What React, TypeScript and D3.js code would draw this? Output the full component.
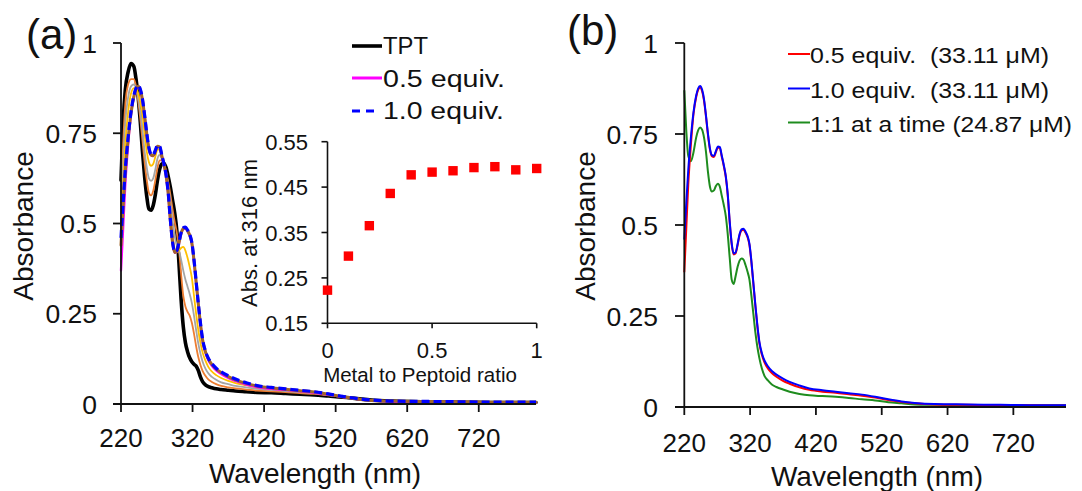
import React from "react";
import * as d3 from "d3";

// ---------- DATA ----------
const wavelengths = [220,223,226,230,234,238,241,244,247,250,253,256,259,262,265,268,271,274,277,280,283,286,289,292,295,298,301,304,307,310,313,316,319,322,325,328,331,334,338,342,347,353,360,370,380,395,410,430,450,470,490,510,530,550,570,600,650,700,750,800];

const tpt = [0.62,0.78,0.87,0.92,0.943,0.935,0.90,0.85,0.78,0.70,0.63,0.575,0.54,0.537,0.55,0.58,0.62,0.65,0.665,0.667,0.655,0.63,0.60,0.565,0.53,0.48,0.39,0.29,0.215,0.17,0.145,0.128,0.117,0.11,0.105,0.093,0.075,0.062,0.053,0.048,0.045,0.042,0.040,0.038,0.036,0.034,0.032,0.031,0.029,0.027,0.025,0.022,0.019,0.015,0.011,0.008,0.006,0.005,0.004,0.004];

const eq01 = [0.55,0.72,0.83,0.885,0.90,0.90,0.88,0.84,0.79,0.73,0.67,0.62,0.585,0.578,0.59,0.62,0.655,0.675,0.675,0.665,0.645,0.615,0.58,0.54,0.505,0.475,0.43,0.36,0.30,0.27,0.255,0.245,0.225,0.195,0.16,0.13,0.108,0.092,0.078,0.068,0.061,0.055,0.050,0.046,0.043,0.040,0.037,0.035,0.033,0.030,0.028,0.024,0.020,0.015,0.011,0.008,0.006,0.005,0.005,0.004];

const eq02 = [0.50,0.66,0.78,0.85,0.88,0.885,0.875,0.85,0.81,0.76,0.70,0.655,0.625,0.618,0.625,0.65,0.68,0.69,0.68,0.665,0.64,0.605,0.56,0.51,0.465,0.44,0.425,0.40,0.37,0.345,0.325,0.305,0.28,0.245,0.205,0.168,0.14,0.118,0.098,0.085,0.075,0.067,0.060,0.055,0.050,0.046,0.042,0.039,0.036,0.033,0.030,0.025,0.020,0.015,0.011,0.008,0.006,0.005,0.005,0.004];

const eq03 = [0.47,0.61,0.72,0.81,0.86,0.875,0.875,0.86,0.835,0.80,0.75,0.70,0.67,0.66,0.665,0.685,0.705,0.705,0.685,0.665,0.635,0.59,0.53,0.47,0.43,0.42,0.425,0.432,0.435,0.425,0.405,0.38,0.35,0.30,0.25,0.205,0.17,0.143,0.12,0.103,0.09,0.08,0.072,0.064,0.058,0.052,0.046,0.042,0.039,0.035,0.031,0.026,0.020,0.015,0.011,0.008,0.006,0.005,0.005,0.004];

const eq09 = [0.44,0.55,0.645,0.735,0.805,0.852,0.873,0.88,0.87,0.843,0.798,0.748,0.708,0.69,0.688,0.7,0.714,0.712,0.688,0.663,0.633,0.583,0.508,0.448,0.42,0.423,0.446,0.473,0.486,0.488,0.48,0.468,0.446,0.398,0.338,0.278,0.223,0.178,0.145,0.125,0.11,0.097,0.087,0.076,0.067,0.057,0.05,0.045,0.041,0.037,0.033,0.027,0.02,0.014,0.01,0.008,0.007,0.006,0.005,0.005];

const eq05 = [0.37,0.49,0.61,0.72,0.805,0.851,0.871,0.878,0.868,0.841,0.797,0.747,0.707,0.689,0.687,0.7,0.713,0.711,0.687,0.662,0.632,0.582,0.507,0.447,0.419,0.422,0.445,0.472,0.485,0.487,0.479,0.467,0.445,0.397,0.337,0.277,0.222,0.176,0.143,0.122,0.106,0.093,0.083,0.072,0.064,0.054,0.047,0.042,0.039,0.035,0.031,0.026,0.019,0.014,0.010,0.007,0.006,0.005,0.005,0.004];

const eq10 = [0.46,0.56,0.65,0.74,0.81,0.855,0.875,0.882,0.872,0.845,0.80,0.75,0.71,0.692,0.69,0.703,0.716,0.714,0.69,0.665,0.635,0.585,0.51,0.45,0.422,0.425,0.448,0.475,0.488,0.49,0.482,0.47,0.448,0.40,0.34,0.28,0.225,0.18,0.147,0.127,0.112,0.099,0.089,0.078,0.069,0.059,0.051,0.046,0.042,0.038,0.034,0.028,0.021,0.015,0.011,0.008,0.007,0.006,0.005,0.005];

const oneToOne = [0.87,0.76,0.69,0.675,0.70,0.74,0.76,0.768,0.762,0.74,0.70,0.645,0.605,0.592,0.595,0.607,0.613,0.605,0.58,0.555,0.525,0.475,0.41,0.35,0.338,0.36,0.385,0.402,0.408,0.405,0.39,0.372,0.35,0.305,0.255,0.205,0.165,0.135,0.105,0.085,0.073,0.062,0.055,0.048,0.042,0.036,0.032,0.030,0.028,0.025,0.021,0.018,0.013,0.010,0.007,0.006,0.005,0.005,0.005,0.005];

const ratio = [0,0.1,0.2,0.3,0.4,0.5,0.6,0.7,0.8,0.9,1.0];
const absAt316 = [0.223,0.298,0.365,0.436,0.477,0.483,0.486,0.493,0.495,0.488,0.491];

const xTicks = [220,320,420,520,620,720];
const yTicks = [0,0.25,0.5,0.75,1];
const yTickLabels = ["0","0.25","0.5","0.75","1"];
const insetXTicks = [0,0.5,1];
const insetXTickLabels = ["0","0.5","1"];
const insetYTicks = [0.15,0.25,0.35,0.45,0.55];
const insetYTickLabels = ["0.15","0.25","0.35","0.45","0.55"];

const legendA = ["TPT","0.5 equiv.","1.0 equiv."];
const legendB = ["0.5 equiv.  (33.11 μM)","1.0 equiv.  (33.11 μM)","1:1 at a time (24.87 μM)"];

// ---------- LAYOUT ----------
const FONT = "'Liberation Sans', Arial, Helvetica, sans-serif";
const W = 1082, H = 491;

const xA = d3.scaleLinear().domain([220, 800]).range([121, 536]);
const yA = d3.scaleLinear().domain([0, 1]).range([404, 43]);
const xB = d3.scaleLinear().domain([220, 800]).range([684.3, 1066]);
const yB = d3.scaleLinear().domain([0, 1]).range([407, 43]);
const xI = d3.scaleLinear().domain([0, 1]).range([327.5, 536.7]);
const yI = d3.scaleLinear().domain([0.15, 0.55]).range([323.3, 141.7]);

const legendAY = [53.5, 86.5, 118.5];
const legendALen = [45, 122, 121];
const legendBY = [63, 97.5, 131.5];
const legendBLen = [239, 239, 262];

function mkLine(x: any, y: any) {
  return d3
    .line<number>()
    .x((_, i) => x(wavelengths[i]))
    .y((v) => y(v))
    .curve(d3.curveMonotoneX);
}

export default function App() {
  const lA = mkLine(xA, yA);
  const lB = mkLine(xB, yB);
  const txt = { fontFamily: FONT, fill: "#111" } as const;

  return (
    <svg
      width={W}
      height={H}
      viewBox={`0 0 ${W} ${H}`}
      style={{ position: "absolute", left: 0, top: 0, background: "#fff" }}
    >
      <rect width={W} height={H} fill="#fff" />

      {/* ================= PANEL A ================= */}
      <text x={26} y={49} fontSize={42} {...txt}>(a)</text>

      <g fill="none" strokeLinejoin="round" strokeLinecap="round">
        <path d={lA(tpt)!} stroke="#000" strokeWidth={3.6} />
        <path d={lA(eq01)!} stroke="#ED7D31" strokeWidth={1.8} />
        <path d={lA(eq02)!} stroke="#A5A5A5" strokeWidth={1.8} />
        <path d={lA(eq03)!} stroke="#FFC000" strokeWidth={1.8} />
        <path d={lA(eq05)!} stroke="#FF00FF" strokeWidth={2.4} />
        <path d={lA(eq09)!} stroke="#A0652A" strokeWidth={3} />
        <path d={lA(eq10)!} stroke="#0000FF" strokeWidth={3.2} strokeDasharray="8 4" strokeLinecap="butt" />
      </g>

      <g stroke="#111" strokeWidth={1.8} fill="none">
        <line x1={xA(220)} x2={xA(220)} y1={yA(1)} y2={yA(0)} />
        <line x1={113} x2={xA(800)} y1={yA(0)} y2={yA(0)} />
        {yTicks.map((t) => (
          <line key={"ya" + t} x1={113} x2={xA(220)} y1={yA(t)} y2={yA(t)} />
        ))}
        {xTicks.map((t) => (
          <line key={"xa" + t} x1={xA(t)} x2={xA(t)} y1={yA(0)} y2={yA(0) + 8} />
        ))}
      </g>
      {yTicks.map((t, i) => (
        <text key={"yla" + t} x={97} y={yA(t) + 9.5} fontSize={26.5} textAnchor="end" {...txt}>
          {yTickLabels[i]}
        </text>
      ))}
      {xTicks.map((t) => (
        <text key={"xla" + t} x={xA(t)} y={447} fontSize={26} textAnchor="middle" {...txt}>
          {t}
        </text>
      ))}
      <text x={315} y={483} fontSize={28} textAnchor="middle" {...txt}>Wavelength (nm)</text>
      <text transform={`translate(33,226) rotate(-90)`} fontSize={28} textAnchor="middle" {...txt}>
        Absorbance
      </text>

      {/* legend A */}
      <g>
        <line x1={352} x2={382} y1={46} y2={46} stroke="#000" strokeWidth={3.6} />
        <line x1={352} x2={382} y1={78} y2={78} stroke="#FF00FF" strokeWidth={3} />
        <line x1={352} x2={376} y1={111} y2={111} stroke="#0000FF" strokeWidth={3} strokeDasharray="8 6" />
        {legendA.map((s, i) => (
          <text
            key={s}
            x={383}
            y={legendAY[i]}
            fontSize={23.5}
            textLength={legendALen[i]}
            lengthAdjust="spacingAndGlyphs"
            {...txt}
          >
            {s}
          </text>
        ))}
      </g>

      {/* inset */}
      <g stroke="#111" strokeWidth={1.6} fill="none">
        <line x1={xI(0)} x2={xI(0)} y1={yI(0.55)} y2={yI(0.15)} />
        <line x1={xI(0)} x2={xI(1)} y1={yI(0.15)} y2={yI(0.15)} />
        {insetYTicks.map((t) => (
          <line key={"yi" + t} x1={xI(0) - 6} x2={xI(0)} y1={yI(t)} y2={yI(t)} />
        ))}
        {insetXTicks.map((t) => (
          <line key={"xi" + t} x1={xI(t)} x2={xI(t)} y1={yI(0.15)} y2={yI(0.15) + 5} />
        ))}
      </g>
      {insetYTicks.map((t, i) => (
        <text key={"yli" + t} x={308} y={yI(t) + 8} fontSize={22} textAnchor="end" {...txt}>
          {insetYTickLabels[i]}
        </text>
      ))}
      {insetXTicks.map((t, i) => (
        <text key={"xli" + t} x={xI(t)} y={358} fontSize={22} textAnchor="middle" {...txt}>
          {insetXTickLabels[i]}
        </text>
      ))}
      <text x={420} y={382} fontSize={20.5} textAnchor="middle" {...txt}>Metal to Peptoid ratio</text>
      <text transform={`translate(257,233) rotate(-90)`} fontSize={22} textAnchor="middle" {...txt}>
        Abs. at 316 nm
      </text>
      {ratio.map((r, i) => (
        <rect key={"pt" + i} x={xI(r) - 4.7} y={yI(absAt316[i]) - 4.7} width={9.4} height={9.4} fill="#FF0000" />
      ))}

      {/* ================= PANEL B ================= */}
      <text x={567} y={45} fontSize={42} {...txt}>(b)</text>

      <g fill="none" strokeLinejoin="round">
        <path d={lB(oneToOne)!} stroke="#1E8C1E" strokeWidth={2} />
        <path d={lB(eq05)!} stroke="#FF0000" strokeWidth={2} />
        <path d={lB(eq10)!} stroke="#0000FF" strokeWidth={2} />
      </g>

      <g stroke="#111" strokeWidth={1.8} fill="none">
        <line x1={xB(220)} x2={xB(220)} y1={yB(1)} y2={yB(0)} />
        <line x1={675} x2={xB(800)} y1={yB(0)} y2={yB(0)} />
        {yTicks.map((t) => (
          <line key={"yb" + t} x1={675} x2={xB(220)} y1={yB(t)} y2={yB(t)} />
        ))}
        {xTicks.map((t) => (
          <line key={"xb" + t} x1={xB(t)} x2={xB(t)} y1={yB(0)} y2={yB(0) + 8} />
        ))}
      </g>
      {yTicks.map((t, i) => (
        <text key={"ylb" + t} x={658} y={yB(t) + 9.5} fontSize={26.5} textAnchor="end" {...txt}>
          {yTickLabels[i]}
        </text>
      ))}
      {xTicks.map((t) => (
        <text key={"xlb" + t} x={xB(t)} y={452} fontSize={26} textAnchor="middle" {...txt}>
          {t}
        </text>
      ))}
      <text x={877} y={486} fontSize={28} textAnchor="middle" {...txt}>Wavelength (nm)</text>
      <text transform={`translate(595,226) rotate(-90)`} fontSize={28} textAnchor="middle" {...txt}>
        Absorbance
      </text>

      {/* legend B */}
      <g>
        {["#FF0000", "#0000FF", "#1E8C1E"].map((c, i) => (
          <line key={c} x1={788} x2={810} y1={legendBY[i] - 9} y2={legendBY[i] - 9} stroke={c} strokeWidth={2} />
        ))}
        {legendB.map((s, i) => (
          <text
            key={s}
            x={810}
            y={legendBY[i]}
            fontSize={22.5}
            textLength={legendBLen[i]}
            lengthAdjust="spacingAndGlyphs"
            style={{ whiteSpace: "pre" }}
            {...txt}
          >
            {s}
          </text>
        ))}
      </g>
    </svg>
  );
}
